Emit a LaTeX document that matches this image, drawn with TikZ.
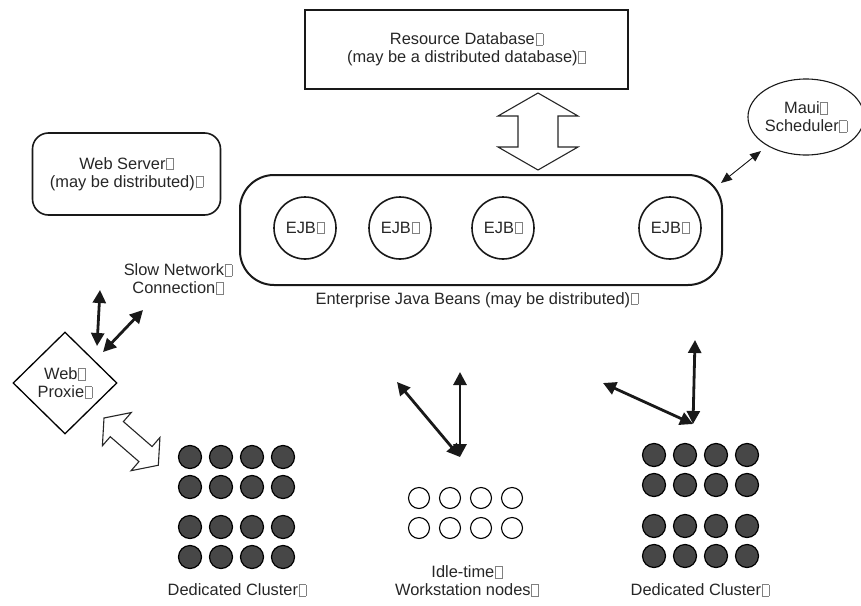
\documentclass[tikz,border=0pt]{standalone}
\usepackage{fontspec}
\setmainfont{Liberation Sans}
\usetikzlibrary{arrows.meta,shapes.geometric}
\newcommand\gb{\hspace{0.04em}{\color{black!50}\setlength\fboxsep{0pt}\setlength\fboxrule{0.5pt}\fbox{\rule{0pt}{0.66em}\hspace{0.4em}}}}
\begin{document}
\begin{tikzpicture}[x=1pt,y=-1pt,
  every node/.style={font=\fontsize{16.4}{18}\selectfont, text=black!85},
  boxline/.style={draw=black!90, line width=1.6pt},
  hollow/.style={draw=black!85, line width=1.1pt, fill=white, line join=miter},
  thick arrow/.style={line width=2.8pt, black!90, {Triangle[length=13pt,width=13pt]}-{Triangle[length=13pt,width=13pt]}},
  thin arrow/.style={line width=0.9pt, black!90, {Triangle[length=11pt,width=9pt]}-{Triangle[length=11pt,width=9pt]}},
  dark node/.style={circle, draw=black, line width=1.2pt, fill=black!72, minimum size=23pt, inner sep=0pt},
  idle node/.style={circle, draw=black, line width=1.1pt, fill=white, minimum size=21pt, inner sep=0pt},
  ejb/.style={circle, boxline, minimum size=62pt, inner sep=0pt}
]
\useasboundingbox (0,0) rectangle (861,605);

% Resource database
\node[boxline, minimum width=323pt, minimum height=79pt, align=center] (db) at (466.5,49.5) {Resource Database\gb\\(may be a distributed database)\gb};

% hollow double arrow db <-> EJBs
\begin{scope}[shift={(538,93)}, rotate=-90]
\draw[hollow] (0,0) -- (23,40) -- (23,20) -- (54,20) -- (54,40) -- (77,0) -- (54,-40) -- (54,-20) -- (23,-20) -- (23,-40) -- cycle;
\end{scope}

% Maui scheduler
\node[ellipse, draw=black!90, line width=1.1pt, minimum width=108pt, minimum height=76pt, inner sep=0pt, align=center] (maui) at (806,117) {Maui\gb\\Scheduler\gb};

% EJB container
\node[boxline, line width=2pt, rounded corners=34pt, minimum width=482pt, minimum height=110pt] (ejbs) at (481,230) {};
\node[ejb] (e1) at (305,228) {EJB\gb};
\node[ejb] (e2) at (400,228) {EJB\gb};
\node[ejb] (e3) at (503,228) {EJB\gb};
\node[ejb] (e4) at (670,228) {EJB\gb};
\node (ejblabel) at (477,300) {Enterprise Java Beans (may be distributed)\gb};

\coordinate (m1) at (761,151);
\coordinate (m2) at (721,183);
\draw[thin arrow] (m1) -- (m2);

% Web server
\node[boxline, rounded corners=16pt, minimum width=188pt, minimum height=82pt, align=center] (ws) at (126.5,174) {Web Server\gb\\(may be distributed)\gb};

% Slow network
\node[align=center] (slow) at (178,279) {Slow Network\gb\\Connection\gb};

% Web proxy
\node[diamond, draw=black, line width=1.3pt, minimum width=104pt, minimum height=102pt, inner sep=0pt, align=center] (proxy) at (65,383) {Web\gb\\Proxie\gb};

\coordinate (p1) at (100,290);
\coordinate (p2) at (97,346);
\coordinate (p3) at (143,310);
\coordinate (p4) at (103,352);
\draw[thick arrow] (p1) -- (p2);
\draw[thick arrow] (p3) -- (p4);

% hollow arrow proxy <-> cluster
\begin{scope}[shift={(104,418)}, rotate=-41]
\draw[hollow] (0,0) -- (17,22) -- (17,10) -- (55,10) -- (55,22) -- (72,0) -- (55,-22) -- (55,-10) -- (17,-10) -- (17,-22) -- cycle;
\end{scope}

% left dedicated cluster
\foreach \r/\y in {1/457,2/487,3/527,4/557}{
  \foreach \c/\x in {1/190,2/221,3/252,4/283}{
    \node[dark node] (L\r\c) at (\x,\y) {};
  }
}
\node (leftlabel) at (237,590) {Dedicated Cluster\gb};

% idle workstations
\foreach \r/\y in {1/498,2/528}{
  \foreach \c/\x in {1/419,2/450,3/481,4/512}{
    \node[idle node] (I\r\c) at (\x,\y) {};
  }
}
\node[align=center] (idlelabel) at (467,581) {Idle-time\gb\\Workstation nodes\gb};

\coordinate (w0) at (460,457);
\coordinate (w1) at (460,372);
\coordinate (w2) at (397,382);
\draw[thick arrow] (w0) -- (w1);
\draw[thick arrow] (w0) -- (w2);

% right dedicated cluster
\foreach \r/\y in {1/455,2/485,3/526,4/556}{
  \foreach \c/\x in {1/654,2/685,3/716,4/747}{
    \node[dark node] (R\r\c) at (\x,\y) {};
  }
}
\node (rightlabel) at (700,590) {Dedicated Cluster\gb};

\coordinate (r0) at (693,424);
\coordinate (r1) at (695,340);
\coordinate (r2) at (603,383);
\draw[thick arrow] (r0) -- (r1);
\draw[thick arrow] (r0) -- (r2);
\end{tikzpicture}
\end{document}
